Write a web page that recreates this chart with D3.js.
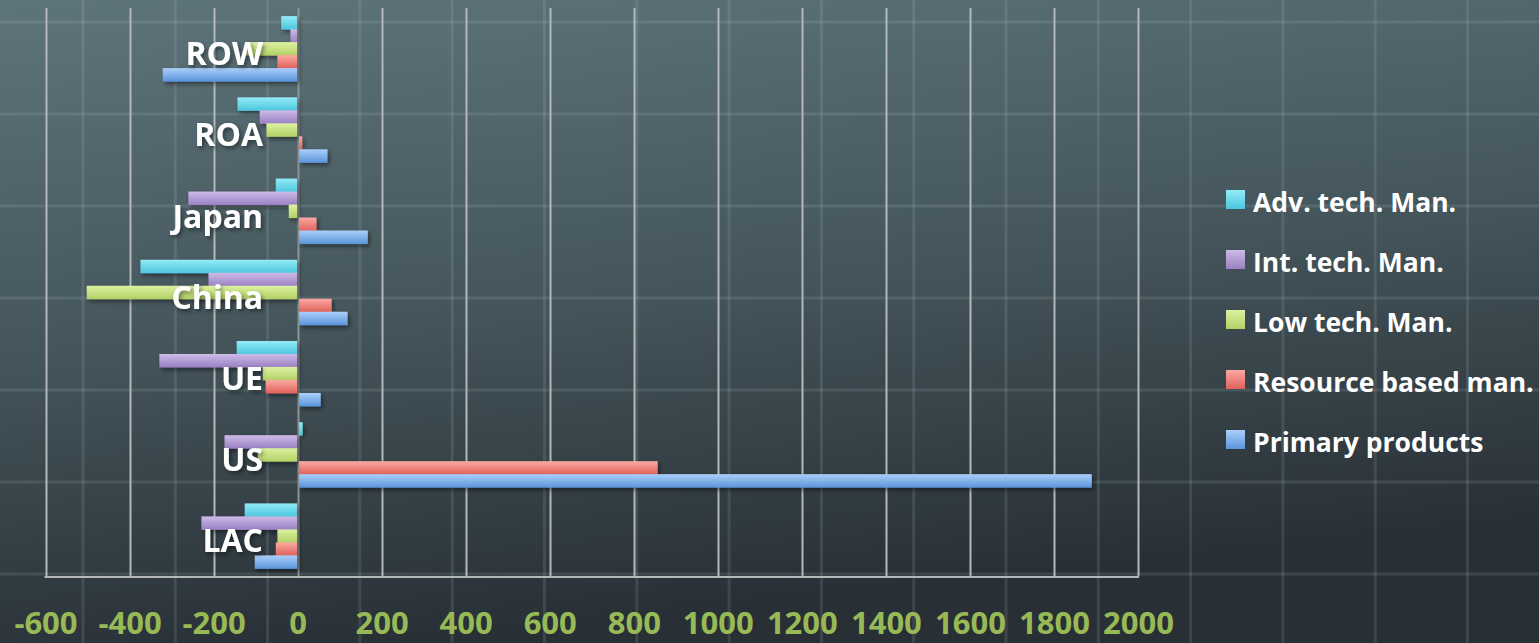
<!DOCTYPE html>
<html>
<head>
<meta charset="utf-8">
<script src="https://cdn.jsdelivr.net/npm/d3@7"></script>
<style>
html,body{margin:0;padding:0;background:#3a4a50;overflow:hidden;}
svg{display:block;}
</style>
</head>
<body>
<svg id="chart" width="1539" height="643"></svg>
<script>
// ---- data ----
const categories = ["ROW", "ROA", "Japan", "China", "UE", "US", "LAC"];
const seriesNames = ["Adv. tech. Man.", "Int. tech. Man.", "Low tech. Man.", "Resource based man.", "Primary products"];
const advTech    = [-39, -143, -52, -374, -145, 12, -126];
const intTech    = [-17, -90, -260, -212, -329, -174, -229];
const lowTech    = [-122, -74, -21, -502, -83, -95, -48];
const resource   = [-48, 11, 45, 81, -76, 857, -52];
const primary    = [-321, 71, 167, 119, 55, 1890, -102];
const xTicks = [-600, -400, -200, 0, 200, 400, 600, 800, 1000, 1200, 1400, 1600, 1800, 2000];

const seriesValues = [advTech, intTech, lowTech, resource, primary];
const colorsTop    = ["#93ebf7", "#cdbbe8", "#dcf2a2", "#faa9a2", "#abcffa"];
const colorsBottom = ["#4cc6df", "#9a80c2", "#b2d064", "#e0615a", "#5a95db"];

const W = 1539, H = 643;
const svg = d3.select("#chart");
const defs = svg.append("defs");

// background gradient
const bg = defs.append("linearGradient").attr("id","bg").attr("x1","0").attr("y1","0").attr("x2","0.25").attr("y2","1");
bg.append("stop").attr("offset","0").attr("stop-color","#5e747b");
bg.append("stop").attr("offset","0.5").attr("stop-color","#45575d");
bg.append("stop").attr("offset","1").attr("stop-color","#283036");
svg.append("rect").attr("width",W).attr("height",H).attr("fill","url(#bg)");

// decorative background grid texture
const texV = d3.range(83, W, 92.3);
const texH = d3.range(22, H, 92);
svg.append("g").selectAll("line.tv").data(texV).join("line")
  .attr("x1",d=>d).attr("x2",d=>d).attr("y1",0).attr("y2",H)
  .attr("stroke","rgba(200,220,225,0.13)").attr("stroke-width",3);
svg.append("g").selectAll("line.th").data(texH).join("line")
  .attr("x1",0).attr("x2",W).attr("y1",d=>d).attr("y2",d=>d)
  .attr("stroke","rgba(200,220,225,0.13)").attr("stroke-width",3);

// gradients for bars
seriesNames.forEach((s,i)=>{
  const g = defs.append("linearGradient").attr("id","g"+i).attr("x1","0").attr("y1","0").attr("x2","0").attr("y2","1");
  g.append("stop").attr("offset","0").attr("stop-color",colorsTop[i]);
  g.append("stop").attr("offset","1").attr("stop-color",colorsBottom[i]);
});
const sh = defs.append("filter").attr("id","shadow").attr("x","-5%").attr("y","-30%").attr("width","115%").attr("height","190%");
sh.append("feDropShadow").attr("dx",2).attr("dy",2.5).attr("stdDeviation",2).attr("flood-color","#000").attr("flood-opacity",0.45);

// scales
const plotLeft = 45.5, plotRight = 1138, plotTop = 8, plotBottom = 576.5;
const x = d3.scaleLinear().domain([-600, 2000]).range([plotLeft, plotRight]);
const y = d3.scaleBand().domain(categories).range([plotTop, plotBottom]).paddingInner(0.2).paddingOuter(0.1);
const y1 = d3.scaleBand().domain(d3.range(seriesNames.length)).range([0, y.bandwidth()]);

// gridlines
const grid = svg.append("g");
grid.selectAll("line").data(xTicks).join("line")
  .attr("x1",d=>Math.round(x(d))+0.5).attr("x2",d=>Math.round(x(d))+0.5)
  .attr("y1",plotTop).attr("y2",plotBottom)
  .attr("stroke",d=>d===0?"#8f9494":"#b4b8b8").attr("stroke-width",2);

// bottom axis line
svg.append("line").attr("x1",plotLeft-1).attr("x2",plotRight+1).attr("y1",plotBottom+0.5).attr("y2",plotBottom+0.5)
  .attr("stroke","#b4b8b8").attr("stroke-width",2);

// bars
const barG = svg.append("g").attr("filter","url(#shadow)");
categories.forEach((c,ci)=>{
  seriesValues.forEach((vals,si)=>{
    const v = vals[ci];
    const x0 = v >= 0 ? x(0)+1.5 : x(v);
    const w = Math.max(0.5, v >= 0 ? x(v)-x(0)-1.5 : x(0)-x(v)-0.5);
    barG.append("rect")
      .attr("x",x0).attr("y",y(c)+y1(si)).attr("width",w).attr("height",y1.bandwidth()+0.5)
      .attr("fill","url(#g"+si+")");
  });
});

// category labels
const labelFont = "'Open Sans', 'DejaVu Sans', sans-serif";
const lbl = svg.append("g").attr("filter","url(#shadow)");
lbl.selectAll("text").data(categories).join("text")
  .attr("x",263).attr("y",d=>y(d)+y.bandwidth()/2+16.5)
  .attr("text-anchor","end").attr("font-family",labelFont).attr("font-weight",700)
  .attr("font-size",32).attr("fill","#ffffff").text(d=>d);

// x axis tick labels
const xAxis = d3.axisBottom(x).tickValues(xTicks).tickSize(0).tickPadding(0).tickFormat(d=>String(d));
const ax = svg.append("g").attr("transform","translate(0,634)").call(xAxis);
ax.select(".domain").remove();
ax.selectAll("text").attr("font-family",labelFont).attr("font-weight",700)
  .attr("font-size",31).attr("fill","#98ba56").attr("dy","0").attr("y",0);

// legend
const leg = svg.append("g").attr("transform","translate(1226,190)");
seriesNames.forEach((s,i)=>{
  const g = leg.append("g").attr("transform",`translate(0,${i*60})`);
  g.append("rect").attr("width",19).attr("height",19).attr("fill","url(#g"+i+")");
  g.append("text").attr("x",27).attr("y",21.5).attr("font-family",labelFont).attr("font-weight",700)
    .attr("font-size",26.5).attr("fill","#ffffff").text(s);
});
</script>
</body>
</html>
